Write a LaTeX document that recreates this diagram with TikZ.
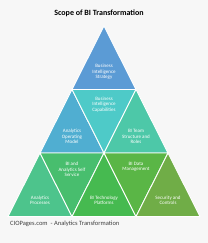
\documentclass[tikz,border=0pt]{standalone}
\usepackage{fontspec}
\setmainfont{Carlito}
\definecolor{bgGray}{RGB}{247,247,247}
\definecolor{cStrategy}{RGB}{91,155,213}
\definecolor{cModel}{RGB}{80,174,209}
\definecolor{cCapab}{RGB}{78,202,200}
\definecolor{cTeam}{RGB}{77,200,168}
\definecolor{cProc}{RGB}{77,196,140}
\definecolor{cSelf}{RGB}{72,190,110}
\definecolor{cTech}{RGB}{70,186,80}
\definecolor{cData}{RGB}{90,182,70}
\definecolor{cSecur}{RGB}{112,173,71}
\begin{document}
\begin{tikzpicture}[x=1pt,y=-1pt]
	\tikzset{every node/.style={font=\fontsize{5}{5.5}\selectfont,text=white,align=center,inner sep=0pt}}
	\tikzset{tri/.style={draw=white,line width=0.9pt,line join=miter}}
	\useasboundingbox[fill=bgGray] (0,0) rectangle (208,243);
	\def \h{63.5}
	\def \w{32}
	% lattice points p<row><col>
	\foreach \r in {0,...,3}{
		\foreach \c in {0,...,\r}{
			\coordinate (p\r\c) at ({104+(2*\c-\r)*\w},{26+\r*\h});
		}
	}
	\filldraw[tri,fill=cStrategy] (p00)--(p10)--(p11)--cycle;
	\filldraw[tri,fill=cModel] (p10)--(p20)--(p21)--cycle;
	\filldraw[tri,fill=cCapab] (p10)--(p11)--(p21)--cycle;
	\filldraw[tri,fill=cTeam] (p11)--(p21)--(p22)--cycle;
	\filldraw[tri,fill=cProc] (p20)--(p30)--(p31)--cycle;
	\filldraw[tri,fill=cSelf] (p20)--(p21)--(p31)--cycle;
	\filldraw[tri,fill=cTech] (p21)--(p31)--(p32)--cycle;
	\filldraw[tri,fill=cData] (p21)--(p22)--(p32)--cycle;
	\filldraw[tri,fill=cSecur] (p22)--(p32)--(p33)--cycle;
	
	\node (strategy) at (104,72) {Business\\Intelligence\\Strategy};
	\node (model) at (72,136.5) {Analytics\\Operating\\Model};
	\node (capab) at (104,104.5) {Business\\Intelligence\\Capabilities};
	\node (team) at (136,136.5) {BI Team\\Structure and\\Roles};
	\node (proc) at (40,200.5) {Analytics\\Processes};
	\node (self) at (72,169.5) {BI and\\Analytics Self\\Service};
	\node (tech) at (104,200.5) {BI Technology\\Platforms};
	\node (data) at (136,167) {BI Data\\Management};
	\node (secur) at (168,200.5) {Security and\\Controls};
	
	\node[font=\bfseries\fontsize{8}{9}\selectfont,text=black] (title) at (99,13) {Scope of BI Transformation};
	\node[anchor=west,font=\fontsize{6.5}{7}\selectfont,text=black!75] (source) at (10,224) {CIOPages.com \ - Analytics Transformation};
\end{tikzpicture}
\end{document}
